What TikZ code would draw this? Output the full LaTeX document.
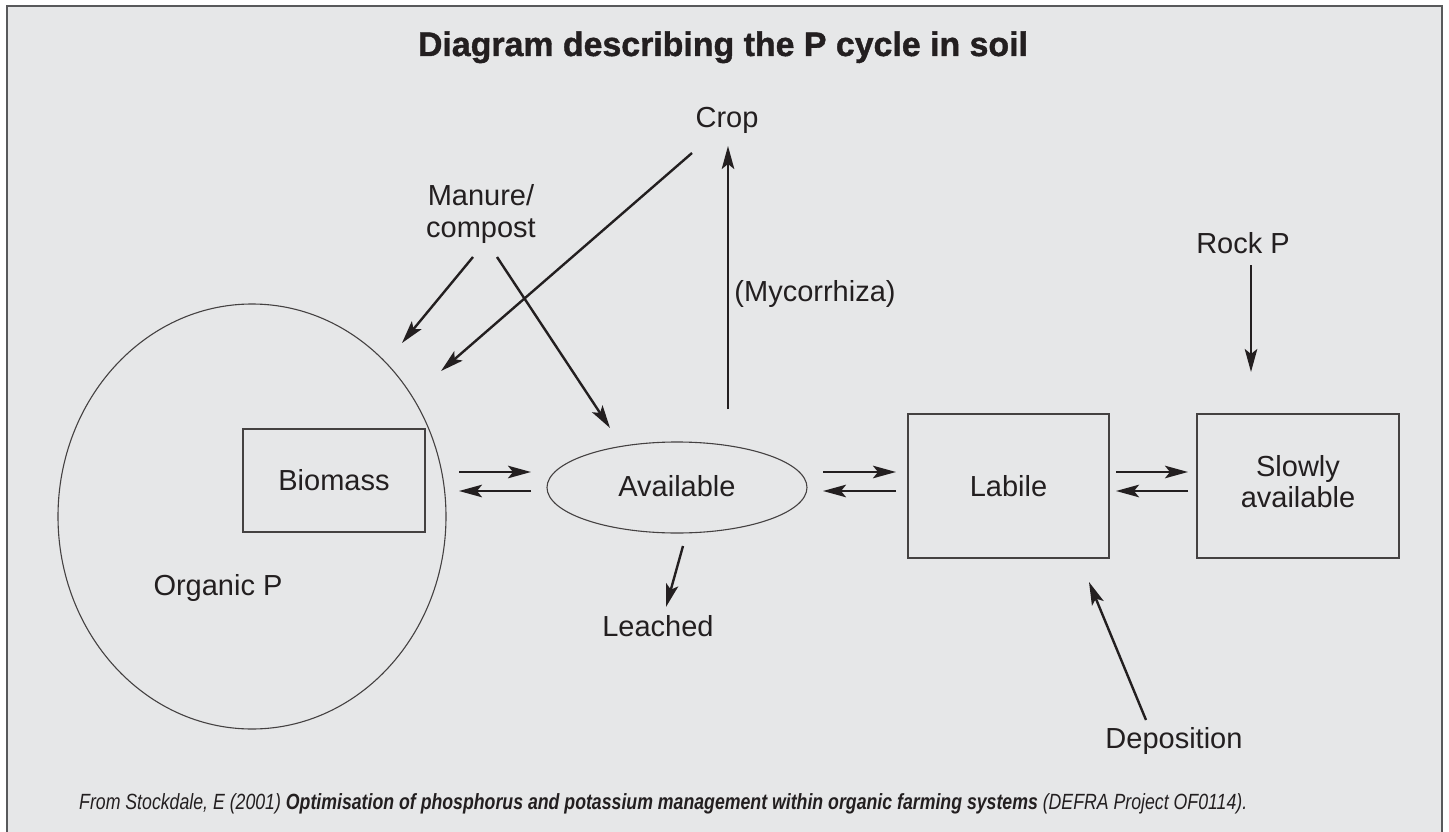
\documentclass[tikz,border=0pt]{standalone}
\usepackage{fontspec}
\setmainfont{Liberation Sans}
\usepackage{graphicx}
\usetikzlibrary{arrows.meta,shapes.geometric,positioning}
\definecolor{panelgray}{HTML}{E6E7E8}
\definecolor{framegray}{HTML}{58595B}
\definecolor{inkblack}{HTML}{231F20}
\tikzset{
  lbl/.style={inner sep=0pt, anchor=base, text=inkblack, font=\fontsize{29}{32}\selectfont},
  pool/.style={draw=inkblack!85, line width=1.4pt, inner sep=0pt, text=inkblack, font=\fontsize{29}{32}\selectfont},
  flow/.style={draw=inkblack, line width=2.4pt, -{Stealth[length=23pt,width=12.5pt,inset=5pt]}},
}

\begin{document}
\begin{tikzpicture}[x=1pt,y=-1pt]
	\useasboundingbox (0,0) rectangle (1449,832);
	\fill[white] (0,0) rectangle (1449,832);
	\fill[panelgray] (7,6) rectangle (1442,832);
	\draw[framegray, line width=2pt] (7,832) -- (7,6) -- (1442,6) -- (1442,832);
	
	\node[anchor=base, inner sep=0pt, text=inkblack] (title) at (723,56) {\resizebox{610pt}{\height}{\fontsize{34}{38}\selectfont\bfseries\addfontfeature{FakeBold=1.2}Diagram describing the P cycle in soil}};
	
	% pools
	\node[pool, ellipse, line width=1.1pt, minimum width=388pt, minimum height=425pt] (organic) at (252,516.5) {};
	\node[lbl] (orglbl) at (218,595) {Organic P};
	\node[pool, rectangle, minimum width=182pt, minimum height=103pt] (biomass) at (334,480.5) {\raisebox{2pt}{Biomass}};
	\node[pool, ellipse, line width=1.1pt, minimum width=260pt, minimum height=91pt] (avail) at (677,487.5) {\raisebox{3pt}{Available}};
	\node[pool, rectangle, minimum width=201pt, minimum height=144pt] (labile) at (1008.5,486) {Labile};
	\node[pool, rectangle, minimum width=202pt, minimum height=144pt] (slow) at (1298,486) {\raisebox{5pt}{\begin{tabular}{@{}c@{}}Slowly\\[-1pt]available\end{tabular}}};
	
	% inputs and outputs
	\node[lbl] (crop) at (727,128) {Crop};
	\node[lbl, align=center] (manure) at (481,237) {Manure/\\compost};
	\node[lbl] (rock) at (1243,253) {Rock P};
	\node[lbl] (mycor) at (815,301) {(Mycorrhiza)};
	\node[lbl] (leached) at (658,636) {Leached};
	\node[lbl] (depos) at (1174,748) {Deposition};
	
	\coordinate (manure-l) at (473,257);
	\coordinate (manure-r) at (497,257);
	\coordinate (org-in1) at (402,343);
	\coordinate (org-in2) at (441,371);
	\coordinate (crop-out) at (692,153);
	\coordinate (crop-in) at (728,146);
	\coordinate (avail-in) at (610,428);
	\coordinate (avail-up) at (728,409);
	\coordinate (avail-dn) at (683,546);
	\coordinate (leach-in) at (666,607);
	\coordinate (rock-out) at (1251,265);
	\coordinate (slow-in) at (1251,372);
	\coordinate (depos-out) at (1146,720);
	\coordinate (labile-in) at (1089,582);
	
	\draw[flow] (manure-l) -- (org-in1);
	\draw[flow] (manure-r) -- (avail-in);
	\draw[flow] (crop-out) -- (org-in2);
	\draw[flow] (avail-up) -- (crop-in);
	\draw[flow] (avail-dn) -- (leach-in);
	\draw[flow] (rock-out) -- (slow-in);
	\draw[flow] (depos-out) -- (labile-in);
	
	% exchanges
	\draw[flow] (459,472) coordinate (bio-a) -- (531,472) coordinate (av-a);
	\draw[flow] (av-a |- 0,491) coordinate (av-b) -- (bio-a |- 0,491) coordinate (bio-b);
	\draw[flow] (823,472) coordinate (av-c) -- (896,472) coordinate (lab-c);
	\draw[flow] (lab-c |- 0,491) coordinate (lab-d) -- (av-c |- 0,491) coordinate (av-d);
	\draw[flow] (1116,472) coordinate (lab-e) -- (1188,472) coordinate (sl-e);
	\draw[flow] (sl-e |- 0,491) coordinate (sl-f) -- (lab-e |- 0,491) coordinate (lab-f);
	
	\node[anchor=base west, inner sep=0pt, text=inkblack] (source) at (79,809) {\resizebox{1168pt}{\height}{\fontsize{22}{24}\selectfont\itshape From Stockdale, E (2001) \textbf{Optimisation of phosphorus and potassium management within organic farming systems} (DEFRA Project OF0114).}};
\end{tikzpicture}
\end{document}
